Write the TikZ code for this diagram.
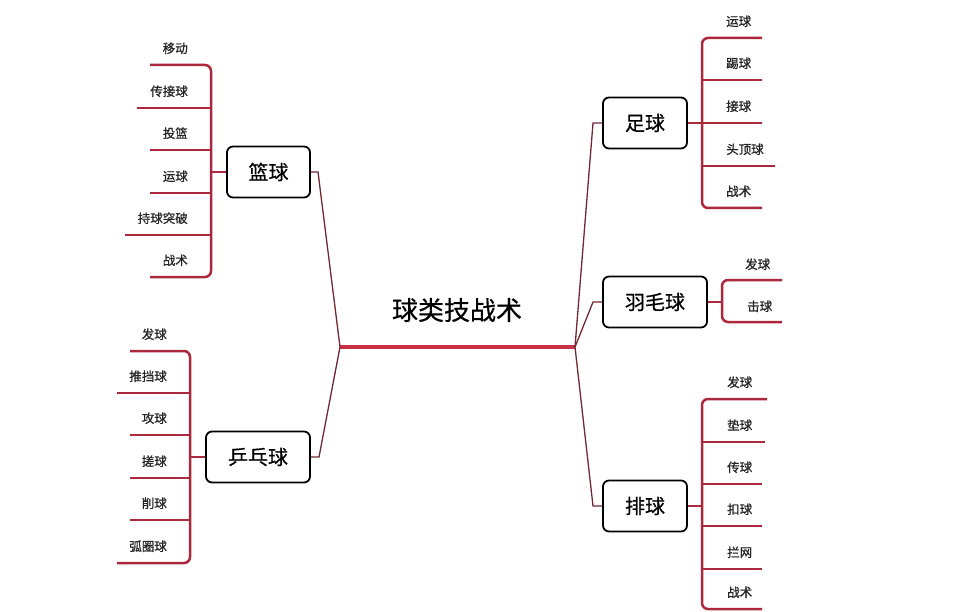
\documentclass[tikz,border=0pt]{standalone}
\usepackage{fontspec}
\newfontfamily\cjk[FakeBold=0.6]{Noto Sans CJK SC}
\newfontfamily\cjkleaf[FakeBold=0.9]{Noto Sans CJK SC}
\definecolor{linered}{RGB}{172,40,60}
\definecolor{conred}{RGB}{112,40,52}
\definecolor{mainred}{RGB}{200,48,68}
\begin{document}
\begin{tikzpicture}[x=1pt,y=-1pt,
  topic/.style={draw=black, line width=1.8pt, rounded corners=6pt, fill=white,
    minimum height=51pt, inner sep=0pt, font=\cjk\fontsize{20}{24}\selectfont},
  leaf/.style={inner sep=0pt, text=black!85, font=\cjkleaf\fontsize{12.5}{15}\selectfont},
  branch/.style={draw=linered, line width=2.5pt},
  conn/.style={draw=conred, line width=1.3pt},
  mainline/.style={draw=mainred, line width=4pt},
]
\useasboundingbox[fill=white] (0,0) rectangle (968,612);

% title and trunk
\node[inner sep=0pt, font=\cjk\fontsize{26}{30}\selectfont] (title) at (457,310) {球类技战术};
\coordinate (jl) at (340,347);
\coordinate (jr) at (575,347);
\draw[mainline] (jl) -- (jr);

% topic boxes
\node[topic, minimum width=83pt] (lq) at (268.5,172) {篮球};
\node[topic, minimum width=104pt] (pp) at (258,457) {乒乓球};
\node[topic, minimum width=84pt] (zq) at (645,123) {足球};
\node[topic, minimum width=104pt] (ym) at (655,302) {羽毛球};
\node[topic, minimum width=84pt] (pq) at (645,506) {排球};

% connectors from the junctions
\coordinate (klq) at (318,172);
\coordinate (kpp) at (319,457);
\coordinate (kzq) at (593,123);
\coordinate (kym) at (593,302);
\coordinate (kpq) at (593,506);
\draw[conn] (jl) -- (klq) -- (lq.east);
\draw[conn] (jl) -- (kpp) -- (pp.east);
\draw[conn] (jr) -- (kzq) -- (zq.west);
\draw[conn] (jr) -- (kym) -- (ym.west);
\draw[conn] (jr) -- (kpq) -- (pq.west);

% ---- 篮球
\foreach \t/\y/\x [count=\i] in {移动/65/150,传接球/108/137,投篮/150/150,运球/193/150,持球突破/235/125,战术/277/150}{
  \coordinate (lqb\i) at (211,\y);
  \coordinate (lqe\i) at (\x,\y);
  \node[leaf, anchor=base east] (lqt\i) at (188,\y-12) {\t};
}
\draw[branch, rounded corners=6pt] (lqe1) -- (lqb1) -- (lqb6) -- (lqe6);
\foreach \i in {2,...,5} \draw[branch] (lqb\i) -- (lqe\i);
\draw[branch] (lq.west) -- (lq.west -| lqb1);

% ---- 乒乓球
\foreach \t/\y/\x [count=\i] in {发球/351/130,推挡球/393/117,攻球/435/130,搓球/478/130,削球/520/130,弧圈球/563/117}{
  \coordinate (ppb\i) at (190,\y);
  \coordinate (ppe\i) at (\x,\y);
  \node[leaf, anchor=base east] (ppt\i) at (167,\y-12) {\t};
}
\draw[branch, rounded corners=6pt] (ppe1) -- (ppb1) -- (ppb6) -- (ppe6);
\foreach \i in {2,...,5} \draw[branch] (ppb\i) -- (ppe\i);
\draw[branch] (pp.west) -- (pp.west -| ppb1);

% ---- 足球
\foreach \t/\y/\x [count=\i] in {运球/38/762,踢球/80/762,接球/123/762,头顶球/166/775,战术/208/762}{
  \coordinate (zqb\i) at (702,\y);
  \coordinate (zqe\i) at (\x,\y);
  \node[leaf, anchor=base west] (zqt\i) at (726,\y-12) {\t};
}
\draw[branch, rounded corners=6pt] (zqe1) -- (zqb1) -- (zqb5) -- (zqe5);
\foreach \i in {2,...,4} \draw[branch] (zqb\i) -- (zqe\i);
\draw[branch] (zq.east) -- (zq.east -| zqb1);

% ---- 羽毛球
\foreach \t/\y/\x [count=\i] in {发球/280/782,击球/322/782}{
  \coordinate (ymb\i) at (722,\y);
  \coordinate (yme\i) at (\x,\y);
}
\node[leaf, anchor=base west] (ymt1) at (745,269) {发球};
\node[leaf, anchor=base west] (ymt2) at (747,311) {击球};
\draw[branch, rounded corners=6pt] (yme1) -- (ymb1) -- (ymb2) -- (yme2);
\draw[branch] (ym.east) -- (ym.east -| ymb1);

% ---- 排球
\foreach \t/\y/\x [count=\i] in {发球/399/767,垫球/442/765,传球/484/762,扣球/526/762,拦网/569/762,战术/609/762}{
  \coordinate (pqb\i) at (702,\y);
  \coordinate (pqe\i) at (\x,\y);
  \node[leaf, anchor=base west] (pqt\i) at (727,\y-12) {\t};
}
\draw[branch, rounded corners=6pt] (pqe1) -- (pqb1) -- (pqb6) -- (pqe6);
\foreach \i in {2,...,5} \draw[branch] (pqb\i) -- (pqe\i);
\draw[branch] (pq.east) -- (pq.east -| pqb1);
\end{tikzpicture}
\end{document}
